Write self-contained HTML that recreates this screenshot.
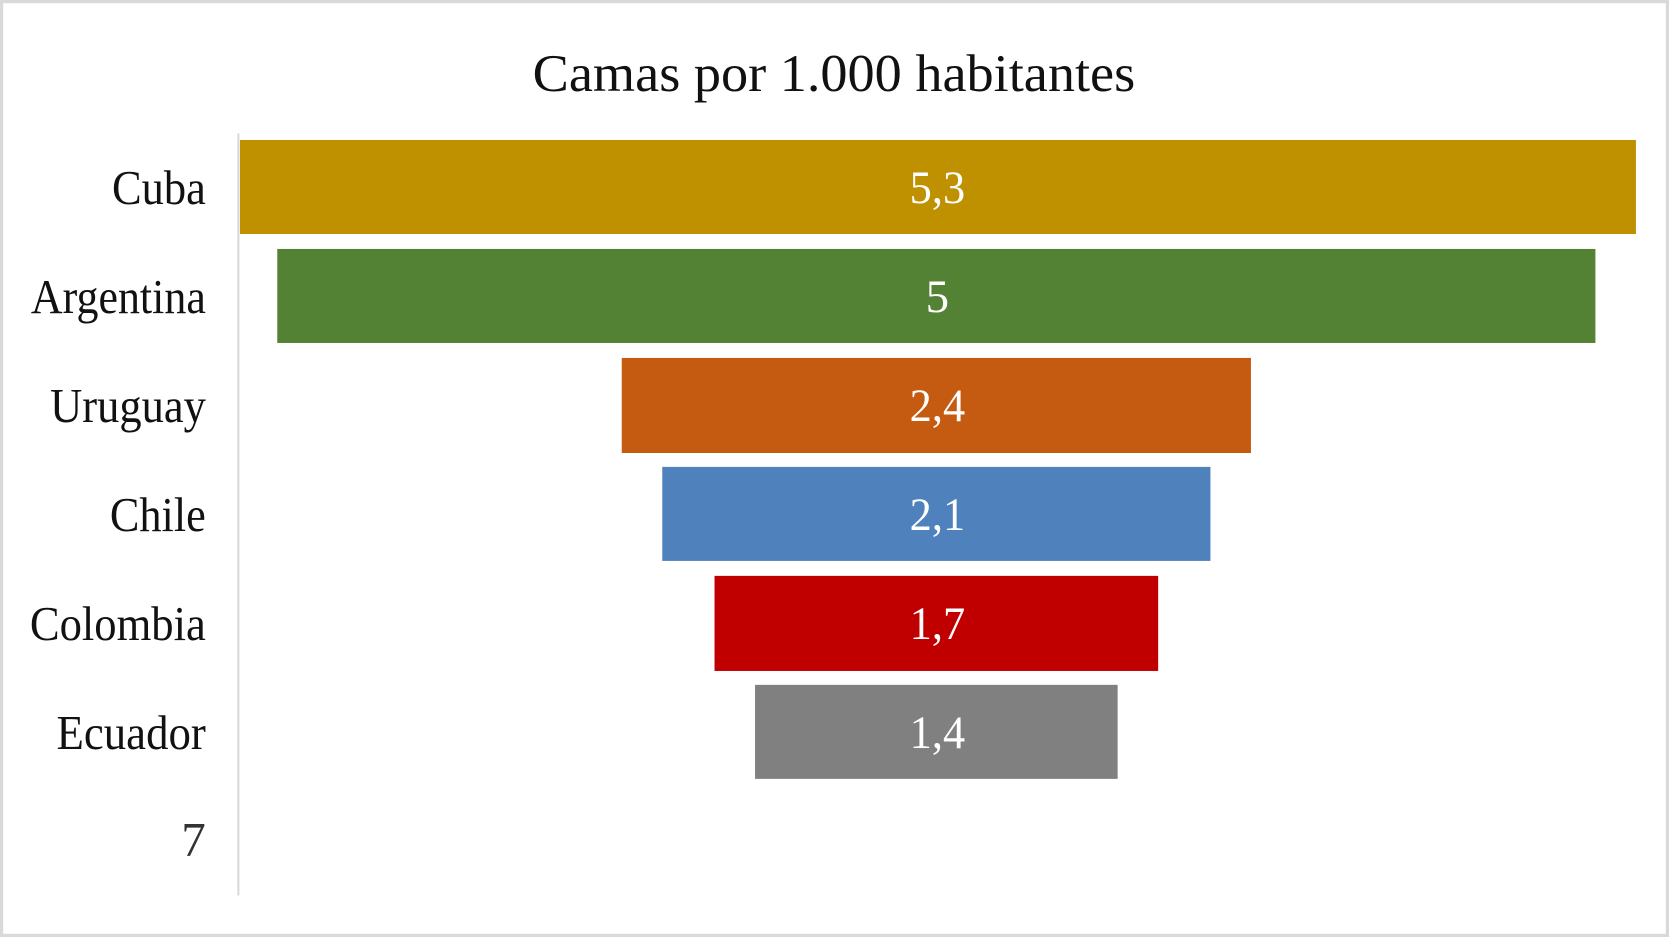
<!DOCTYPE html>
<html><head><meta charset="utf-8"><style>html,body{margin:0;padding:0;background:#fff;overflow:hidden}</style></head>
<body>
<svg width="1669" height="937" viewBox="0 0 1565 877" preserveAspectRatio="none" xmlns="http://www.w3.org/2000/svg" style="display:block">
<rect x="1.5" y="1.5" width="1562" height="874" fill="#fff" stroke="#d9d9d9" stroke-width="3"/>
<g font-family="'Liberation Serif', serif">
<text x="782" y="85" font-size="50" text-anchor="middle" fill="#111" textLength="565" lengthAdjust="spacingAndGlyphs">Camas por 1.000 habitantes</text>
<line x1="223.5" y1="125" x2="223.5" y2="838" stroke="#d9d9d9" stroke-width="2"/>
<rect x="225" y="131" width="1309" height="88" fill="#bf9000"/>
<rect x="260" y="233" width="1236" height="88" fill="#548235"/>
<rect x="583" y="335" width="590" height="89" fill="#c55a11"/>
<rect x="621" y="437" width="514" height="88" fill="#4f81bd"/>
<rect x="670" y="539" width="416" height="89" fill="#c00000"/>
<rect x="708" y="641" width="340" height="88" fill="#808080"/>
<g font-size="46" text-anchor="end" fill="#111">
<text x="193" y="191" textLength="88" lengthAdjust="spacingAndGlyphs">Cuba</text>
<text x="193" y="293" textLength="164" lengthAdjust="spacingAndGlyphs">Argentina</text>
<text x="193" y="395" textLength="146" lengthAdjust="spacingAndGlyphs">Uruguay</text>
<text x="193" y="497" textLength="90" lengthAdjust="spacingAndGlyphs">Chile</text>
<text x="193" y="599" textLength="165" lengthAdjust="spacingAndGlyphs">Colombia</text>
<text x="193" y="701" textLength="140" lengthAdjust="spacingAndGlyphs">Ecuador</text>
<text x="193" y="801" fill="#333">7</text>
</g>
<g font-size="44" text-anchor="middle" fill="#fff">
<text x="879" y="190" textLength="52" lengthAdjust="spacingAndGlyphs">5,3</text>
<text x="879" y="292">5</text>
<text x="879" y="394" textLength="52" lengthAdjust="spacingAndGlyphs">2,4</text>
<text x="879" y="496" textLength="52" lengthAdjust="spacingAndGlyphs">2,1</text>
<text x="879" y="598" textLength="52" lengthAdjust="spacingAndGlyphs">1,7</text>
<text x="879" y="700" textLength="52" lengthAdjust="spacingAndGlyphs">1,4</text>
</g>
</g>
</svg>
</body></html>
